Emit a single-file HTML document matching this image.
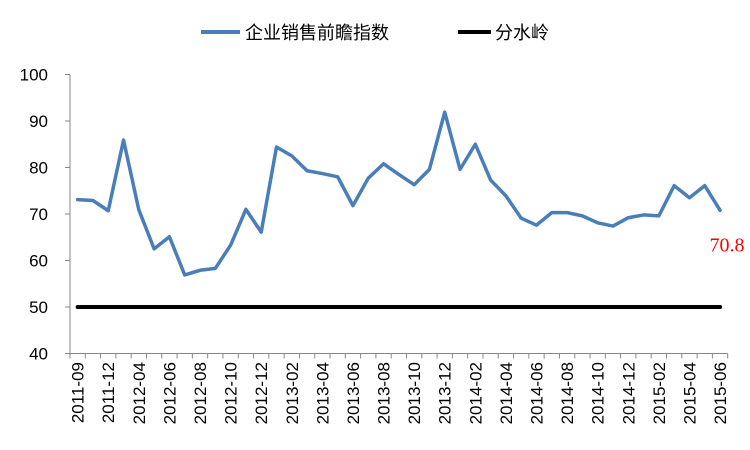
<!DOCTYPE html>
<html><head><meta charset="utf-8"><style>
body{margin:0;background:#fff;}
svg{display:block;font-family:"Liberation Sans","Noto Sans CJK SC",sans-serif;}
</style></head><body>
<svg id="chart" width="750" height="450" viewBox="0 0 750 450" xmlns="http://www.w3.org/2000/svg">
<g>
<line x1="201" y1="32" x2="240" y2="32" stroke="#4a7ebb" stroke-width="4"/>
<text x="245" y="39" font-size="18" fill="#000">企业销售前瞻指数</text>
<line x1="458" y1="32" x2="491" y2="32" stroke="#000" stroke-width="4"/>
<text x="495" y="39" font-size="18" fill="#000">分水岭</text>
</g>
<g id="axes"></g>
<g id="marks"></g>
</svg>
<script>
const categories=["2011-09","2011-10","2011-12","2012-03","2012-04","2012-05","2012-06","2012-07","2012-08","2012-09","2012-10","2012-11","2012-12","2013-01","2013-02","2013-03","2013-04","2013-05","2013-06","2013-07","2013-08","2013-09","2013-10","2013-11","2013-12","2014-01","2014-02","2014-03","2014-04","2014-05","2014-06","2014-07","2014-08","2014-09","2014-10","2014-11","2014-12","2015-01","2015-02","2015-03","2015-04","2015-05","2015-06"];
const indexValues=[73.1,72.9,70.7,85.9,70.9,62.5,65.1,56.9,57.9,58.3,63.3,71.0,66.1,84.4,82.5,79.3,78.7,78.0,71.8,77.7,80.8,78.5,76.3,79.6,91.9,79.6,85.0,77.3,73.9,69.1,67.6,70.3,70.3,69.6,68.1,67.4,69.2,69.8,69.6,76.1,73.5,76.1,70.8];
const thresholdValues=categories.map(()=>50);
const yTicks=[40,50,60,70,80,90,100];
const lastLabel="70.8";

const NS="http://www.w3.org/2000/svg";
const left=70,right=727.7,yBase=307,unit=4.65,yMin=40,yMax=100;
const step=(right-left)/categories.length;
const xScale=i=>left+step*(i+0.5);
const yScale=v=>yBase-(v-50)*unit;
function mk(tag,attrs,parent){const e=document.createElementNS(NS,tag);for(const k in attrs)e.setAttribute(k,attrs[k]);parent.appendChild(e);return e;}
const axes=document.getElementById('axes'),marks=document.getElementById('marks');

const yAxis=mk('line',{x1:left,y1:yScale(yMax),x2:left,y2:yScale(yMin),stroke:'#868686','stroke-width':1},axes);


const xAxis=mk('line',{x1:left,y1:yScale(yMin),x2:right,y2:yScale(yMin),stroke:'#868686','stroke-width':1},axes);


yTicks.forEach(v=>{
  const t=mk('line',{x1:left-5,y1:yScale(v),x2:left,y2:yScale(v),stroke:'#868686'},axes);
  
  
  const l=mk('text',{x:48,y:yScale(v)+6,'text-anchor':'end','font-size':17,fill:'#000'},axes);
  l.textContent=v;
  
  
});
for(let i=0;i<=categories.length;i++){
  const x=left+step*i;
  const t=mk('line',{x1:x,y1:yScale(yMin),x2:x,y2:yScale(yMin)+5,stroke:'#868686'},axes);
  
  
}
categories.forEach((c,i)=>{
  if(i%2!==0)return;
  const x=xScale(i)+6,y=362;
  const l=mk('text',{x:x,y:y,'text-anchor':'end','font-size':17,fill:'#000',transform:`rotate(-90 ${x} ${y})`},axes);
  l.textContent=c;
  
  
});
const thr=mk('path',{d:thresholdValues.map((v,i)=>(i?'L':'M')+xScale(i)+' '+yScale(v)).join(''),fill:'none',stroke:'#000','stroke-width':4,'stroke-linecap':'round'},marks);


const ln=mk('path',{d:indexValues.map((v,i)=>(i?'L':'M')+xScale(i)+' '+yScale(v)).join(''),fill:'none',stroke:'#4a7ebb','stroke-width':3.5,'stroke-linejoin':'round','stroke-linecap':'round'},marks);


const last=indexValues.length-1;
const dl=mk('text',{x:xScale(last)+7,y:yScale(indexValues[last])+41,'text-anchor':'middle','font-size':20,fill:'#ff0000','font-family':'Liberation Serif, serif'},marks);
dl.textContent=lastLabel;


</script>
</body></html>
